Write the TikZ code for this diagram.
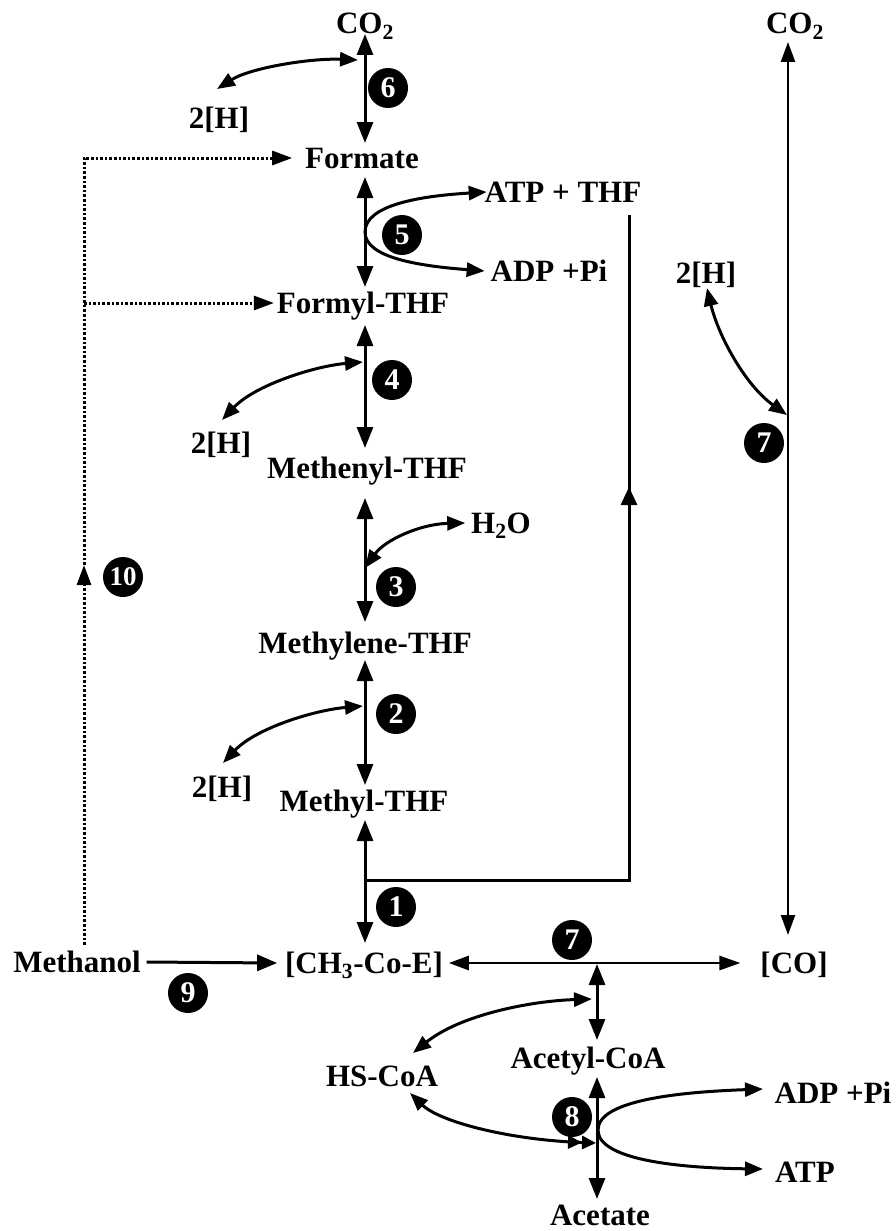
\documentclass[tikz,border=0pt]{standalone}
\usepackage{fontspec}
\setmainfont{Liberation Serif}
\usetikzlibrary{arrows.meta}
\begin{document}
\begin{tikzpicture}[x=1pt,y=-1pt,
  lbl/.style={font=\fontsize{31}{31}\selectfont\bfseries, inner sep=0pt, outer sep=0pt, text height=20pt, text depth=0pt},
  num/.style={circle, fill=black, minimum size=40pt, inner sep=0pt, text=white, font=\fontsize{30}{30}\selectfont\bfseries},
  main/.style={line width=3pt},
  bi/.style={main, {Triangle[length=21pt,width=16pt]}-{Triangle[length=21pt,width=16pt]}},
  one/.style={main, -{Triangle[length=20pt,width=16pt]}},
  cbi/.style={line width=3pt, {Triangle[length=18pt,width=14pt]}-{Triangle[length=18pt,width=14pt]}},
  cdbl/.style={line width=3pt, {Triangle[length=18pt,width=14pt]}-{Triangle[length=14pt,width=13pt]Triangle[length=14pt,width=13pt]}},
  thinbi/.style={line width=2.4pt, {Triangle[length=20pt,width=14pt]}-{Triangle[length=20pt,width=14pt]}},
  dotline/.style={line width=3pt, dash pattern=on 2.6pt off 2pt},
  dottip/.style={-{Triangle[length=20pt,width=14pt]}}
]
\path[use as bounding box] (0,0) rectangle (896,1231);

% ---------- labels ----------
\node[lbl] (co2a) at (365,24) {CO\textsubscript{2}};
\node[lbl] (formate) at (362,158) {Formate};
\node[lbl] (atpthf) at (563,192) {ATP + THF};
\node[lbl] (adp1) at (549,271) {ADP +Pi};
\node[lbl] (formyl) at (363,303) {Formyl-THF};
\node[lbl] (h6) at (219,118) {2[H]};
\node[lbl] (h4) at (221,443) {2[H]};
\node[lbl] (methenyl) at (367,468) {Methenyl-THF};
\node[lbl] (h2o) at (501,523) {H\textsubscript{2}O};
\node[lbl] (methylene) at (365,643) {Methylene-THF};
\node[lbl] (h2) at (222,787) {2[H]};
\node[lbl] (methyl) at (364,801) {Methyl-THF};
\node[lbl] (methanol) at (77,962) {Methanol};
\node[lbl] (ch3) at (364,963) {[CH\textsubscript{3}-Co-E]};
\node[lbl] (co) at (794,963) {[CO]};
\node[lbl] (co2b) at (795,24) {CO\textsubscript{2}};
\node[lbl] (hr) at (706,273) {2[H]};
\node[lbl] (acetylcoa) at (588,1058) {Acetyl-CoA};
\node[lbl] (hscoa) at (382,1076) {HS-CoA};
\node[lbl] (adp2) at (833,1093) {ADP +Pi};
\node[lbl] (atp) at (805,1172) {ATP};
\node[lbl] (acetate) at (600,1215) {Acetate};

% ---------- numbered circles ----------
\node[num] (n6) at (388,88) {6};
\node[num] (n5) at (402,235) {5};
\node[num] (n4) at (392,380) {4};
\node[num] (n3) at (396,587) {3};
\node[num] (n2) at (396,714) {2};
\node[num] (n1) at (396,907) {1};
\node[num] (n7a) at (572,940) {7};
\node[num] (n7b) at (764,443) {7};
\node[num] (n8) at (572,1117) {8};
\node[num] (n9) at (188,993) {9};
\node[num, font=\fontsize{27}{27}\selectfont\bfseries] (n10) at (123,577) {10};

% ---------- coordinates ----------
\coordinate (ax) at (365,0);
\coordinate (j6) at (358,60);
\coordinate (t6) at (217,89);
\coordinate (j5) at (365,232);
\coordinate (j4) at (363,362);
\coordinate (t4) at (222,420);
\coordinate (j3) at (365,568);
\coordinate (j2) at (363,706);
\coordinate (t2) at (223,763);
\coordinate (j1) at (365,880);
\coordinate (rtop) at (629,215);
\coordinate (rcorner) at (629,880);
\coordinate (rmid) at (629,487);
\coordinate (cx) at (788,0);
\coordinate (j7r) at (787,415);
\coordinate (t7r) at (707,288);
\coordinate (jc) at (597,964);
\coordinate (jhs) at (592,999);
\coordinate (thsa) at (413,1053);
\coordinate (thsb) at (410,1093);
\coordinate (jhs2) at (596,1143);
\coordinate (j8) at (598,1130);
\coordinate (tadp) at (763,1089);
\coordinate (tatp) at (763,1169);
\coordinate (dbot) at (84,945);
\coordinate (dtop) at (84,158);
\coordinate (dmid) at (84,303);
\coordinate (darr) at (84,565);

% ---------- main axis ----------
\draw[bi, shorten >=5pt] (co2a.south -| ax) -- (formate.north -| ax);
\draw[bi, shorten <=9pt, shorten >=6pt] (formate.south -| ax) -- (formyl.north -| ax);
\draw[bi, shorten <=12pt, shorten >=10pt] (formyl.south -| ax) -- (methenyl.north -| ax);
\draw[bi, shorten <=20pt, shorten >=11pt] (methenyl.south -| ax) -- (methylene.north -| ax);
\draw[bi, shorten <=7pt, shorten >=6pt] (methylene.south -| ax) -- (methyl.north -| ax);
\draw[bi, shorten <=9pt, shorten >=10pt] (methyl.south -| ax) -- (ch3.north -| ax);

% ---------- side reactions ----------
\draw[cbi] (j6) .. controls (310,58) and (250,68) .. (t6);
\draw[cbi] ([xshift=2pt]atpthf.west) .. controls (420,196) and (365,205) .. (j5)
  .. controls (365,258) and (420,266) .. ([xshift=-6pt]adp1.west);
\draw[cbi] (j4) .. controls (315,366) and (255,385) .. (t4);
\draw[cbi] ([xshift=-6pt]h2o.west) .. controls (420,524) and (385,540) .. (j3);
\draw[cbi] (j2) .. controls (315,710) and (256,728) .. (t2);

% ---------- THF return line ----------
\draw[main] (rtop) -- (rcorner) -- (j1);
\draw[main, -{Triangle[length=18pt,width=16pt]}] (rcorner) -- (rmid);

% ---------- CO2 / CO line ----------
\draw[thinbi, shorten <=8pt, shorten >=18pt] (co2b.south -| cx) -- (co.north -| cx);
\draw[cbi] (t7r) .. controls (718,335) and (745,385) .. (j7r);

% ---------- methanol ----------
\draw[one] ([xshift=6pt]methanol.east) -- ([xshift=-8pt]ch3.west);
\draw[dotline, dottip] (dbot) -- (darr);
\draw[dotline, dottip] (darr) -- (dtop) -- ([xshift=-13pt]formate.west);
\draw[dotline, dottip] (dmid) -- ([xshift=-3pt]formyl.west);

% ---------- carbonyl branch ----------
\draw[line width=2.8pt, {Triangle[length=20pt,width=14pt]}-{Triangle[length=21pt,width=14pt]}]
  ([xshift=6pt]ch3.east) -- ([xshift=-20pt]co.west);
\draw[bi, shorten >=8pt] (jc) -- (acetylcoa.north -| jc);
\draw[cbi] (jhs) .. controls (530,1001) and (460,1015) .. (thsa);
\draw[bi, shorten <=9pt, shorten >=6pt] (acetylcoa.south -| jc) -- (acetate.north -| jc);
\draw[cdbl] (thsb) .. controls (440,1122) and (510,1140) .. (jhs2);
\draw[cbi] (tadp) .. controls (680,1092) and (598,1100) .. (j8)
  .. controls (598,1160) and (680,1168) .. (tatp);
\end{tikzpicture}
\end{document}
